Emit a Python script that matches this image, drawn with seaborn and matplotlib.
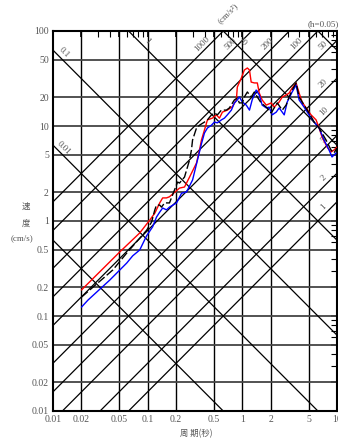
import numpy as np
import pandas as pd
import seaborn as sns
import matplotlib.pyplot as plt

# response spectrum values (period s, velocity cm/s)
red_T = [0.02, 0.0507, 0.0824, 0.105, 0.119, 0.134, 0.144, 0.158, 0.170,
         0.217, 0.245, 0.277, 0.328, 0.353, 0.370, 0.398, 0.428, 0.483, 0.532,
         0.573, 0.616, 0.695, 0.785, 0.865, 0.885, 0.976, 1.05, 1.13, 1.19,
         1.24, 1.34, 1.44, 1.51, 1.62, 1.79, 2.02, 2.17, 2.45, 2.64,
         2.90, 3.12, 3.36, 3.70, 3.98, 4.28, 4.72, 5.32, 6.01, 6.47,
         6.95, 7.85, 8.65, 9.30, 10.0]
red_V = [0.188, 0.472, 0.748, 1.02, 1.21, 1.55, 1.75, 1.75, 1.8,
         2.22, 2.28, 2.90, 4.08, 5.59, 7.12, 9.08, 11.6, 12.1, 13.1,
         12.1, 14.0, 14.7, 16.0, 18.8, 25.7, 32.0, 38.8, 40.8, 38.8,
         29.0, 28.4, 28.4, 22.2, 18.8, 16.6, 17.5, 15.8, 17.9, 20.2,
         21.2, 22.2, 25.1, 28.4, 22.2, 17.9, 15.5, 13.1, 11.6, 9.53,
         7.66, 6.01, 5.32, 5.59, 6.0]

blue_T = [0.02, 0.0234, 0.0398, 0.0601, 0.0695, 0.0824, 0.0976, 0.113, 0.124, 0.134,
          0.144, 0.158, 0.170, 0.202, 0.228, 0.257, 0.298, 0.336, 0.370, 0.398,
          0.428, 0.472, 0.507, 0.545, 0.601, 0.647, 0.695, 0.766, 0.824, 0.885,
          0.930, 1.0, 1.10, 1.19, 1.27, 1.40, 1.51, 1.62, 1.79, 1.92,
          2.07, 2.28, 2.45, 2.77, 2.98, 3.36, 3.70, 3.98, 4.49, 5.07,
          5.73, 6.47, 7.30, 8.24, 8.86, 9.76]
blue_V = [0.124, 0.147, 0.239, 0.361, 0.43, 0.495, 0.70, 0.87, 1.10, 1.24,
          1.37, 1.31, 1.40, 1.55, 1.96, 2.02, 2.70, 4.39, 6.5, 8.44,
          9.53, 10.2, 11.0, 10.8, 11.6, 12.1, 13.1, 14.7, 17.5, 18.8,
          20.2, 17.9, 16.6, 14.7, 18.8, 23.9, 21.2, 16.6, 15.5, 15.8,
          13.1, 14.0, 15.5, 13.1, 17.9, 22.8, 27.0, 18.8, 15.8, 13.1,
          11.0, 9.53, 7.12, 5.59, 4.72, 5.20]

black_T = [0.02, 0.0428, 0.0601, 0.0976, 0.110, 0.119, 0.124, 0.134, 0.140, 0.151,
           0.170, 0.207, 0.217, 0.245, 0.277, 0.290, 0.298, 0.328, 0.353, 0.398,
           0.428, 0.472, 0.507, 0.545, 0.601, 0.679, 0.730, 0.824, 0.885, 0.930,
           1.0, 1.05, 1.13, 1.24, 1.34, 1.44, 1.58, 1.79, 2.02, 2.17,
           2.34, 2.64, 2.90, 3.12, 3.36, 3.70, 3.98, 4.49, 5.07, 5.73,
           6.47, 7.66, 8.65, 9.30, 10.0]
black_V = [0.158, 0.305, 0.46, 0.80, 0.976, 1.31, 1.47, 1.47, 1.40, 1.55,
           1.55, 2.57, 2.51, 2.90, 4.39, 5.59, 7.12, 9.53, 10.2, 11.0,
           11.6, 13.1, 13.7, 13.1, 14.7, 14.7, 15.5, 18.8, 19.7, 17.5,
           17.5, 20.2, 22.8, 20.2, 22.8, 20.2, 17.5, 15.8, 13.7, 15.5,
           17.5, 14.7, 16.6, 20.2, 23.9, 28.4, 20.2, 16.6, 13.7, 11.0,
           9.53, 7.12, 5.59, 5.20, 5.87]

x_ticks = [0.01, 0.02, 0.05, 0.1, 0.2, 0.5, 1, 2, 5, 10]
x_labels = ['0.01', '0.02', '0.05', '0.1', '0.2', '0.5', '1', '2', '5', '10']
y_ticks = [0.01, 0.02, 0.05, 0.1, 0.2, 0.5, 1, 2, 5, 10, 20, 50, 100]
y_labels = ['0.01', '0.02', '0.05', '0.1', '0.2', '0.5', '1', '2', '5', '10', '20', '50', '100']

accel_vals = [1, 2, 5, 10, 20, 50, 100, 200, 500, 1000]   # cm/s^2
disp_vals = [0.001, 0.01, 0.1, 1, 10, 100]                # cm
disp_labeled = [0.01, 0.1, 1, 10]

df = pd.concat([
    pd.DataFrame({'T': red_T, 'V': red_V, 'run': 'red'}),
    pd.DataFrame({'T': blue_T, 'V': blue_V, 'run': 'blue'}),
    pd.DataFrame({'T': black_T, 'V': black_V, 'run': 'black'}),
], ignore_index=True)

sns.set_style('white')
plt.rcParams['font.family'] = ['Liberation Serif', 'Noto Sans CJK JP', 'DejaVu Sans']

fig = plt.figure(figsize=(3.38, 4.43), dpi=100)
ax = fig.add_axes([53 / 338, 32 / 443, 284 / 338, 380 / 443])
ax.set_xscale('log')
ax.set_yscale('log')
ax.set_xlim(0.01, 10)
ax.set_ylim(0.01, 100)

# grid
for x in x_ticks[1:-1]:
    ax.axvline(x, color='black', lw=1.0, zorder=1)
for y in y_ticks[1:-1]:
    ax.axhline(y, color='#444444', lw=1.3, zorder=1)

# tripartite lines
tt = np.logspace(-2, 1, 200)
for a in accel_vals:
    ax.plot(tt, a * tt / (2 * np.pi), color='black', lw=0.9, zorder=1)
for d in disp_vals:
    ax.plot(tt, 2 * np.pi * d / tt, color='black', lw=0.9, zorder=1)

lab_kw = dict(fontsize=6.5, color='#555555', ha='center', va='center',
              textcoords='offset points')
for a in accel_vals:
    if a >= 100:
        t0 = 2 * np.pi * 66 / a
    else:
        t0 = 8.0
    ax.annotate(f'{a}', (t0, a * t0 / (2 * np.pi)), xytext=(-3, 3),
                rotation=45, annotation_clip=False, **lab_kw)
for d in disp_labeled:
    if d < 1:
        t0 = 0.0118
    else:
        t0 = 0.09 * d
    ax.annotate(f'{d:g}', (t0, 2 * np.pi * d / t0), xytext=(3, 3),
                rotation=-45, annotation_clip=False, **lab_kw)

sns.lineplot(data=df, x='T', y='V', hue='run', style='run',
             hue_order=['red', 'blue', 'black'],
             palette={'red': '#ff0000', 'blue': '#0000ff', 'black': 'black'},
             dashes={'red': '', 'blue': '', 'black': (6, 2)},
             sort=False, estimator=None, legend=False, lw=1.0, ax=ax, zorder=3)

ax.set_xticks(x_ticks)
ax.set_xticklabels(x_labels)
ax.set_yticks(y_ticks)
ax.set_yticklabels(y_labels)
minor_x = [m * 10.0 ** e for e in range(-2, 1) for m in (3, 4, 6, 7, 8, 9)]
minor_y = [m * 10.0 ** e for e in range(-2, 2) for m in (3, 4, 6, 7, 8, 9)]
ax.set_xticks(minor_x, minor=True)
ax.set_yticks(minor_y, minor=True)
ax.set_xticklabels([], minor=True)
ax.set_yticklabels([], minor=True)
ax.tick_params(which='both', direction='in', top=True, right=True,
               labelsize=7, labelcolor='#555555', color='black')
ax.tick_params(which='major', length=4, width=1.2, pad=3)
ax.tick_params(which='minor', length=4, width=0.8)
for s in ax.spines.values():
    s.set_color('black')
    s.set_linewidth(1.5)
ax.set_xlabel('')
ax.set_ylabel('')

cjk = ['Noto Sans CJK JP', 'DejaVu Sans']
fig.text(26 / 338, 1 - 206 / 443, '速', fontsize=6, color='#555555', ha='center', va='center', family=cjk)
fig.text(26 / 338, 1 - 223 / 443, '度', fontsize=6, color='#555555', ha='center', va='center', family=cjk)
fig.text(22 / 338, 1 - 238 / 443, '(cm/s)', fontsize=6.5, color='#555555', ha='center', va='center')
fig.text(196 / 338, 1 - 434 / 443, '周 期(秒)', fontsize=6, color='#555555', ha='center', va='center', family=cjk)
fig.text(228 / 338, 1 - 13 / 443, '(cm/s²)', fontsize=6.5, color='#555555', ha='center', va='center', rotation=45)
fig.text(308 / 338, 1 - 24 / 443, '(h=0.05)', fontsize=6.5, color='#555555', ha='left', va='center')

fig.savefig('out.png', dpi=100)
